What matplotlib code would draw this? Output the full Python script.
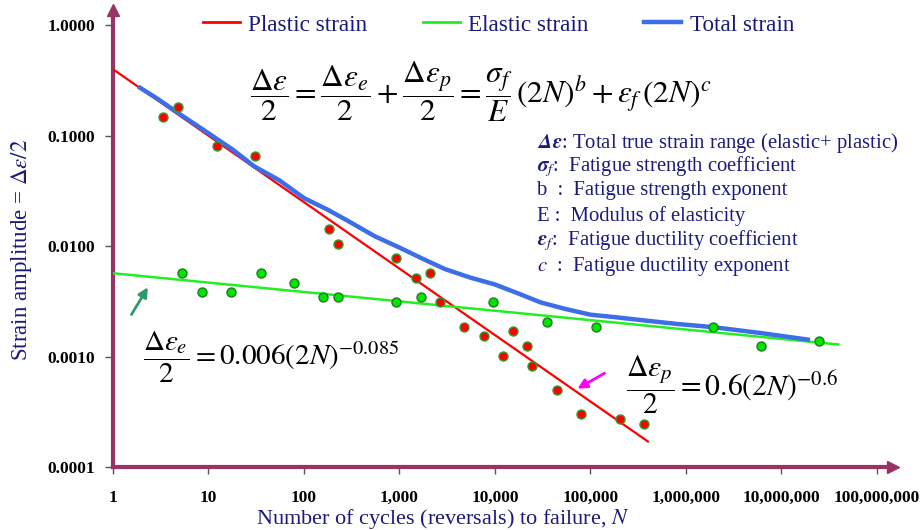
import numpy as np
import matplotlib
matplotlib.use('Agg')
import matplotlib.pyplot as plt
from matplotlib.ticker import FixedLocator, FuncFormatter, NullLocator
from matplotlib.lines import Line2D

# ---------------- data ----------------
plastic_line_N = [1, 400000]
plastic_line_strain = [0.398, 0.000171]
elastic_line_N = [1, 3.94e7]
elastic_line_strain = [0.00569, 0.00129]
total_N = [1.84, 3, 5.5, 10, 18, 30, 55, 100, 180, 300, 550, 1000, 1800, 3000, 5500,
           10000, 18000, 30000, 55000, 100000, 180000, 330000, 800000, 1.93e6, 6e6, 1.99e7]
total_strain = [0.277, 0.212, 0.148, 0.105, 0.0745, 0.0528, 0.0395, 0.0272, 0.0212,
                0.0166, 0.0123, 0.0097, 0.0076, 0.0062, 0.0052, 0.0045, 0.0037, 0.0031,
                0.0027, 0.0024, 0.00228, 0.00215, 0.00198, 0.00185, 0.00164, 0.00142]

plastic_data_N = [3.34, 4.76, 12.2, 31, 181, 227, 926, 1479, 2104, 2654, 4770, 7670,
                  12100, 15300, 21800, 24600, 44300, 80200, 205000, 366000]
plastic_data_strain = [0.148, 0.182, 0.0805, 0.0658, 0.0142, 0.01054, 0.00777, 0.00519,
                       0.00573, 0.00311, 0.00187, 0.00153, 0.00102, 0.0017, 0.00125,
                       0.00083, 0.0005, 0.000302, 0.000272, 0.000247]

elastic_data_N = [5.32, 8.55, 17.3, 35.2, 78.5, 159, 229, 926, 1667, 9600, 35300,
                  113000, 1.9e6, 6.15e6, 2.49e7]
elastic_data_strain = [0.00573, 0.00383, 0.00383, 0.00573, 0.00468, 0.00345, 0.00345,
                       0.00311, 0.00345, 0.00311, 0.00207, 0.00187, 0.00187, 0.00125,
                       0.00138]

x_ticks = [1, 10, 100, 1000, 10000, 100000, 1000000, 10000000, 100000000]
y_ticks = [0.0001, 0.001, 0.01, 0.1, 1.0]

series_names = ["Plastic strain", "Elastic strain", "Total strain"]

# ---------------- style ----------------
plt.rcParams['mathtext.fontset'] = 'stix'
plt.rcParams['font.family'] = ['Liberation Serif', 'DejaVu Serif']

W, H = 922, 530
fig = plt.figure(figsize=(W / 100, H / 100), dpi=100)

def fp(x, y):
    return (x / W, 1 - y / H)

ax_left, ax_right, ax_top, ax_bottom = 113, 893, 10, 467.3
ax = fig.add_axes([ax_left / W, 1 - ax_bottom / H, (ax_right - ax_left) / W,
                   (ax_bottom - ax_top) / H])
ax.set_xscale('log')
ax.set_yscale('log')
ax.set_xlim(1, 10 ** 8.168)
ax.set_ylim(1e-4, 10 ** 0.1356)
ax.patch.set_alpha(0)

navy = '#1a1a7a'
spine_c = '#993366'
red = '#ff0000'
lime = '#22ee22'
blue = '#3d6ee8'

ax.plot(plastic_line_N, plastic_line_strain, color=red, lw=1.6, zorder=3)
ax.plot(elastic_line_N, elastic_line_strain, color=lime, lw=1.8, zorder=3)
ax.plot(total_N, total_strain, color=blue, lw=3.2, zorder=4, solid_capstyle='butt',
        solid_joinstyle='round')

ax.scatter(plastic_data_N, plastic_data_strain, s=42, c=red, edgecolors='#2e9e2e',
           linewidths=1.0, zorder=5)
ax.scatter(elastic_data_N, elastic_data_strain, s=42, c='#00e600', edgecolors='#1f7a1f',
           linewidths=1.0, zorder=5)

# spines
for s in ['top', 'right']:
    ax.spines[s].set_visible(False)
for s in ['left', 'bottom']:
    ax.spines[s].set_color(spine_c)
    ax.spines[s].set_linewidth(3)
ax.plot([1], [0], marker='>', ms=9, color=spine_c, transform=ax.transAxes, clip_on=False)
ax.plot([0], [1], marker='^', ms=9, color=spine_c, transform=ax.transAxes, clip_on=False)

ax.xaxis.set_major_locator(FixedLocator(x_ticks))
ax.yaxis.set_major_locator(FixedLocator(y_ticks))
ax.xaxis.set_minor_locator(NullLocator())
ax.yaxis.set_minor_locator(NullLocator())
ax.xaxis.set_major_formatter(FuncFormatter(lambda v, p: f"{int(round(v)):,}"))
ax.yaxis.set_major_formatter(FuncFormatter(lambda v, p: f"{v:.4f}"))
ax.tick_params(axis='x', direction='out', length=5, width=1, color='#555555', pad=11,
               labelsize=12.5)
ax.tick_params(axis='y', direction='out', length=6, width=1, color='#555555', pad=7,
               labelsize=12.5)
for lab in ax.get_xticklabels() + ax.get_yticklabels():
    lab.set_fontweight('bold')

# legend
handles = [Line2D([], [], color=red, lw=2),
           Line2D([], [], color=lime, lw=2),
           Line2D([], [], color=blue, lw=3.2)]
leg = fig.legend(handles, series_names, loc='center left', bbox_to_anchor=fp(203, 25),
                 bbox_transform=fig.transFigure, ncol=3, frameon=False, borderpad=0,
                 borderaxespad=0, handlelength=1.6, handletextpad=0.35,
                 columnspacing=2.4, prop={'size': 16.7})
for t in leg.get_texts():
    t.set_color(navy)

# axis labels
fig.text(*fp(443, 519), r"Number of cycles (reversals) to failure, $N$", color=navy,
         fontsize=16, ha='center', va='center')
fig.text(*fp(21, 250), r"Strain amplitude = $\mathit{\Delta\varepsilon/2}$", color=navy,
         fontsize=16.5, ha='center', va='center', rotation=90)

# equations
fig.text(*fp(250, 92),
         r"$\dfrac{\Delta\varepsilon}{2}=\dfrac{\Delta\varepsilon_e}{2}+\dfrac{\Delta\varepsilon_p}{2}=\dfrac{\sigma_f}{E}\,(2N)^b+\varepsilon_f\,(2N)^c$",
         fontsize=22.5, ha='left', va='center', color='black')
fig.text(*fp(143, 357), r"$\dfrac{\Delta\varepsilon_e}{2}=0.006(2N)^{-0.085}$",
         fontsize=21, ha='left', va='center', color='black')
fig.text(*fp(626, 385), r"$\dfrac{\Delta\varepsilon_p}{2}=0.6(2N)^{-0.6}$",
         fontsize=21.3, ha='left', va='center', color='black')

# definitions
defs = [r"$\mathbfit{\Delta\varepsilon}$: Total true strain range (elastic+ plastic)",
        r"$\mathbfit{\sigma}_{f}$:  Fatigue strength coefficient",
        r"b  :  Fatigue strength exponent",
        r"E :  Modulus of elasticity",
        r"$\mathbfit{\varepsilon}_{f}$:  Fatigue ductility coefficient",
        r"$c$  :  Fatigue ductility exponent"]
def_y = [143, 167, 191, 216, 241, 266]
for txt, yy in zip(defs, def_y):
    fig.text(*fp(537, yy), txt, fontsize=14.9, color=navy, ha='left', va='center')

# arrows
ax.annotate("", xy=(2.40, 0.00446), xytext=(1.507, 0.00229),
            arrowprops=dict(arrowstyle='-|>', color='#2e9a6a', lw=2, mutation_scale=14))
ax.annotate("", xy=(68900, 0.0005), xytext=(149000, 0.00073),
            arrowprops=dict(arrowstyle='-|>', color='#ff00ff', lw=2, mutation_scale=14))

fig.savefig('out.png', dpi=100)
